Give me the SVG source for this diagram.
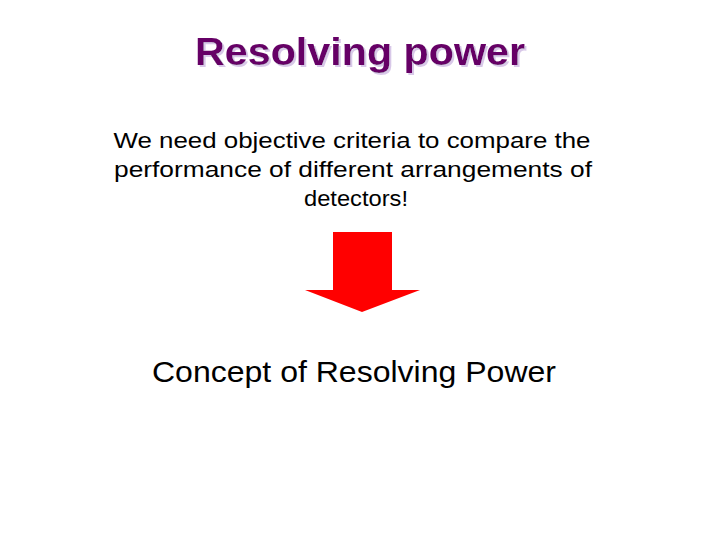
<svg xmlns="http://www.w3.org/2000/svg" width="720" height="540" viewBox="0 0 720 540">
<defs>
<filter id="sh" x="-10%" y="-20%" width="120%" height="150%"><feDropShadow dx="2" dy="2" stdDeviation="0" flood-color="#d8c8e8"/></filter>
</defs>
<style>
.t{font-family:"Liberation Sans",sans-serif;text-anchor:middle}
.body{font-size:22px;fill:#000}
</style>
<rect width="720" height="540" fill="#fff"/>
<g id="title">
<text class="t" x="360" y="65" font-size="38" font-weight="bold" fill="#660066" filter="url(#sh)" textLength="330" lengthAdjust="spacingAndGlyphs">Resolving power</text>
</g>
<g id="intro">
<text class="t body" x="352" y="148" textLength="477" lengthAdjust="spacingAndGlyphs">We need objective criteria to compare the</text>
<text class="t body" x="353" y="177" textLength="478" lengthAdjust="spacingAndGlyphs">performance of different arrangements of</text>
<text class="t body" x="356" y="206" textLength="104" lengthAdjust="spacingAndGlyphs">detectors!</text>
</g>
<g id="connectors">
<polygon points="333,232 392,232 392,290 420,290 362,312 305,290 333,290" fill="#ff0000"/>
</g>
<g id="concept">
<text class="t" x="354" y="382" font-size="30" fill="#000" textLength="404" lengthAdjust="spacingAndGlyphs">Concept of Resolving Power</text>
</g>
</svg>
